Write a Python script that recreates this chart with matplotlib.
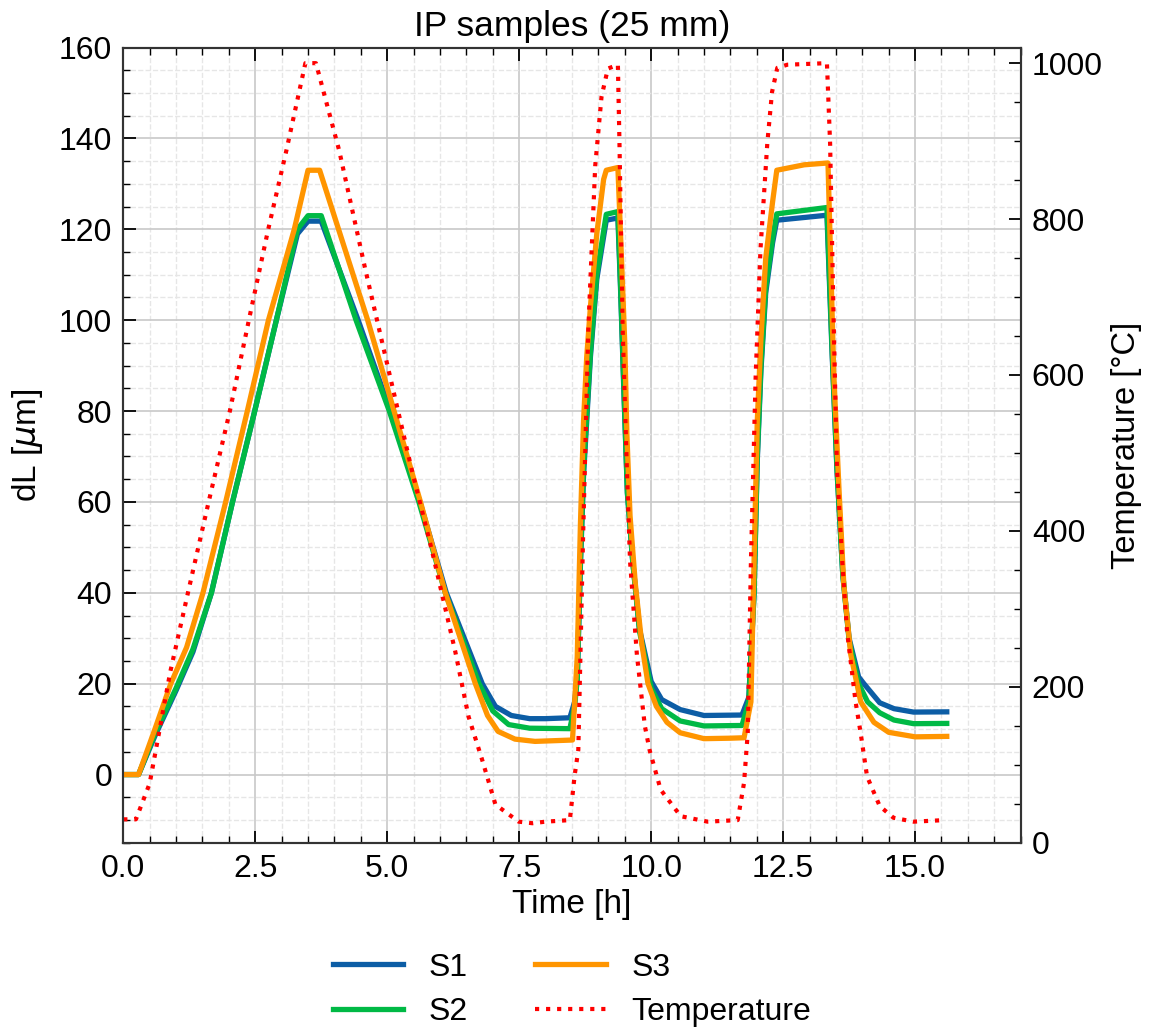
import matplotlib.pyplot as plt
import matplotlib.ticker as mtick

plt.rcParams['font.family'] = ['Liberation Sans', 'DejaVu Sans']
plt.rcParams['mathtext.fontset'] = 'dejavusans'

# --- data (time in h, dL in um, T in degC) ---
t_s3 = [0, 0.29, 0.6, 0.9, 1.2, 1.51, 1.94, 2.35, 2.75, 3.24, 3.5, 3.72,
        4.63, 5.13, 5.63, 6.1, 6.67, 6.9, 7.1, 7.42, 7.8, 8.51,
        8.6, 8.66, 8.72, 8.78, 8.85, 8.97, 9.1, 9.15, 9.37, 9.45, 9.5, 9.54, 9.6, 9.7, 9.82, 9.94,
        10.1, 10.3, 10.55, 11.0, 11.5, 11.76,
        11.89, 11.95, 12.01, 12.08, 12.17, 12.3, 12.38, 12.9, 13.35, 13.46, 13.56, 13.65, 13.78,
        13.97, 14.22, 14.5, 15.0, 15.6]
dl_s3 = [0, 0, 10, 20, 28, 40, 60, 80, 100, 120, 133, 133,
         100, 80, 60, 40, 20, 13, 9.5, 7.8, 7.3, 7.6,
         26, 55, 78, 92, 103, 119, 131, 133, 133.6, 110, 95, 75, 57, 42, 29, 20,
         15, 11.5, 9.2, 7.9, 8.0, 8.1,
         16, 47, 77.7, 96, 113.6, 126, 133, 134.2, 134.6, 88, 62.4, 41.8, 26.5,
         16, 11.5, 9.3, 8.3, 8.4]

t_s2 = [0, 0.29, 0.6, 1.0, 1.32, 1.67, 2.07, 2.49, 2.9, 3.3, 3.5, 3.75,
        4.41, 5.04, 5.6, 6.1, 6.74, 7.0, 7.3, 7.7, 8.46,
        8.55, 8.6, 8.66, 8.72, 8.85, 8.97, 9.15, 9.37, 9.42, 9.49, 9.55, 9.65, 9.78,
        10.0, 10.2, 10.55, 11.0, 11.72,
        11.85, 11.95, 12.01, 12.08, 12.17, 12.3, 12.38, 13.33, 13.43, 13.52, 13.63, 13.75,
        13.93, 14.1, 14.33, 14.6, 14.97, 15.6]
dl_s2 = [0, 0, 9, 19, 27.6, 40, 60, 80, 100, 120, 123, 123,
         100, 80, 60, 40, 20, 14, 11, 10.2, 10.1,
         15, 21, 47, 67.5, 93, 110, 123.3, 123.9, 108, 83, 62, 47, 31.5,
         19, 14.5, 11.8, 10.7, 10.8,
         16, 40, 70, 90, 107, 118, 123.4, 124.8, 93, 67.5, 44, 29.5,
         20, 16, 13.6, 12, 11.2, 11.25]

t_s1 = [0, 0.29, 0.6, 1.0, 1.32, 1.67, 2.07, 2.49, 2.9, 3.3, 3.5, 3.75,
        4.45, 5.06, 5.62, 6.12, 6.8, 7.05, 7.35, 7.7, 8.0, 8.46,
        8.55, 8.6, 8.66, 8.72, 8.85, 8.97, 9.15, 9.37, 9.42, 9.49, 9.55, 9.65, 9.78,
        10.0, 10.2, 10.55, 11.0, 11.72,
        11.85, 11.95, 12.01, 12.08, 12.17, 12.3, 12.38, 13.33, 13.43, 13.52, 13.63, 13.75,
        13.93, 14.03, 14.33, 14.6, 14.97, 15.6]
dl_s1 = [0, 0, 8.5, 18.5, 27, 40, 60, 80, 100, 119, 121.8, 121.8,
         100, 80, 60, 40, 20, 15, 13, 12.3, 12.3, 12.5,
         16, 21, 46, 66, 92, 109, 122, 122.5, 107, 82, 62, 47, 32,
         20.5, 16.5, 14.3, 13.0, 13.1,
         17, 40, 69, 89, 106, 117, 122, 123.1, 92, 67, 44, 30,
         21.5, 20, 15.8, 14.5, 13.75, 13.8]

t_temp = [0, 0.24, 0.5, 0.89, 1.23, 1.61, 2.02, 2.4, 2.74, 3.09, 3.45, 3.65,
          4.09, 4.59, 5.03, 5.47, 5.85, 6.29, 6.54, 6.8, 7.05, 7.49, 7.75, 8.0, 8.46,
          8.55, 8.62, 8.71, 8.81, 8.94, 9.06, 9.18, 9.37, 9.4, 9.46, 9.54, 9.6, 9.73,
          9.88, 9.97, 10.18, 10.56, 11.07, 11.64,
          11.76, 11.83, 11.89, 11.98, 12.07, 12.2, 12.29, 12.39, 12.58, 13.33, 13.39,
          13.46, 13.52, 13.62, 13.71, 13.87, 13.97, 14.09, 14.33, 14.59, 14.97, 15.56]
temp = [30, 30, 76, 219, 322, 435, 554, 677, 785, 888, 1000, 1000,
        888, 734, 605, 477, 374, 245, 162, 106, 49, 27, 25, 27, 29,
        86, 119, 391, 659, 868, 957, 993, 998, 897, 659, 480, 361, 241,
        150, 119, 68, 34, 27, 29,
        77, 141, 361, 599, 760, 897, 963, 994, 998, 1000, 897,
        659, 480, 361, 272, 182, 140, 85, 47, 32, 27, 29]

fig = plt.figure(figsize=(11.52, 10.34), dpi=100)
ax = fig.add_axes([0.107, 0.185, 0.779, 0.769])
ax2 = ax.twinx()

l1, = ax.plot(t_s1, dl_s1, color='#0C5DA5', lw=3.8, label='S1', zorder=3)
l2, = ax.plot(t_s2, dl_s2, color='#00B945', lw=3.8, label='S2', zorder=3)
l3, = ax.plot(t_s3, dl_s3, color='#FF9500', lw=3.8, label='S3', zorder=3)
l4, = ax2.plot(t_temp, temp, color='red', lw=3, ls=':', label='Temperature')

ax.set_xlim(0, 17)
ax.set_ylim(-15, 160)
ax2.set_ylim(0, 1020)

fs = 23
ax.xaxis.set_major_locator(mtick.MultipleLocator(2.5))
ax.xaxis.set_minor_locator(mtick.MultipleLocator(0.5))
ax.yaxis.set_major_locator(mtick.MultipleLocator(20))
ax.yaxis.set_minor_locator(mtick.MultipleLocator(5))
ax2.yaxis.set_major_locator(mtick.MultipleLocator(200))
ax2.yaxis.set_minor_locator(mtick.MultipleLocator(50))

ax.tick_params(which='both', direction='in', top=True, labelsize=fs, pad=8)
ax.tick_params(which='major', length=9, width=1.3)
ax.tick_params(which='minor', length=5, width=1.0)
ax2.tick_params(which='both', direction='in', labelsize=fs, pad=8)
ax2.tick_params(which='major', length=9, width=1.3)
ax2.tick_params(which='minor', length=5, width=1.0)

ax.grid(which='major', color='#c8c8c8', lw=1.2)
ax.grid(which='minor', color='#e6e6e6', lw=1.0, ls='--')
ax.set_axisbelow(True)

for a in (ax, ax2):
    for s in a.spines.values():
        s.set_linewidth(1.5)
        s.set_color('#333333')

ax.set_xlabel('Time [h]', fontsize=24, labelpad=4)
ax.set_ylabel(r'dL [$\mu$m]', fontsize=24, labelpad=10)
ax2.set_ylabel('Temperature [°C]', fontsize=23.5, labelpad=6)
ax.set_title('IP samples (25 mm)', fontsize=25.5, pad=8)

ax.legend(handles=[l1, l2, l3, l4], loc='upper center', bbox_to_anchor=(0.5, -0.102),
          ncol=2, frameon=False, fontsize=23, handlelength=2.2, columnspacing=2.1,
          handletextpad=0.8, labelspacing=0.45)

fig.savefig('out.png', dpi=100)
